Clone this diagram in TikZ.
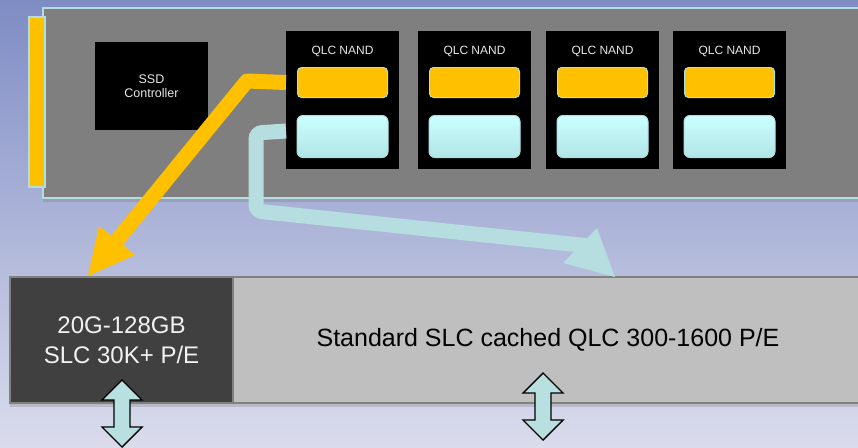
\documentclass[tikz,border=0pt]{standalone}
\usepackage{fontspec}
\setmainfont{Liberation Sans}
\usetikzlibrary{shadows}
\definecolor{bgtop}{RGB}{126,140,196}
\definecolor{bgbot}{RGB}{218,220,236}
\definecolor{gold}{HTML}{FFC000}
\definecolor{edgecyan}{HTML}{B4DDE0}
\definecolor{arrcyan}{HTML}{B6DDE0}
\definecolor{celltop}{HTML}{CCFFFF}
\definecolor{cellbot}{HTML}{B0E4E6}
\definecolor{boardgray}{HTML}{7F7F7F}
\definecolor{darkbox}{HTML}{404040}
\definecolor{lightbox}{HTML}{BFBFBF}
\definecolor{chiptext}{HTML}{E6E6E6}
\definecolor{dblfill}{HTML}{B8E0E0}
\begin{document}
\begin{tikzpicture}[x=1pt,y=-1pt,
  box/.style={anchor=north west, inner sep=0pt, outer sep=0pt},
  boardstyle/.style={box, fill=boardgray, draw=edgecyan, line width=1.5pt,
    drop shadow={shadow xshift=0pt, shadow yshift=-4pt, opacity=0.35}},
  edgebar/.style={box, fill=gold, draw=edgecyan, line width=1.2pt,
    minimum width=16pt, minimum height=170pt},
  blackbox/.style={box, fill=black,
    drop shadow={shadow xshift=2pt, shadow yshift=-2pt, opacity=0.35}},
  chiplabel/.style={anchor=base, inner sep=0pt, text=chiptext,
    font=\fontsize{12}{14}\selectfont},
  ycell/.style={anchor=north, inner sep=0pt, fill=gold, draw=edgecyan,
    line width=1pt, rounded corners=4pt, minimum width=90pt, minimum height=30pt},
  ccell/.style={anchor=north, inner sep=0pt, top color=celltop, bottom color=cellbot,
    draw=edgecyan, line width=1pt, rounded corners=6pt, minimum width=91pt, minimum height=42pt},
  barbox/.style={box, line width=1.2pt, draw=gray, minimum height=126pt,
    drop shadow={shadow xshift=0pt, shadow yshift=-4pt, opacity=0.3}},
  bigtext/.style={inner sep=0pt, align=center, font=\fontsize{24}{30}\selectfont},
  yarrow/.style={draw=gold, line width=15pt, line join=round},
  carrow/.style={draw=arrcyan, line width=15pt, rounded corners=6pt},
  dblstyle/.style={fill=dblfill, draw=black, line width=1.4pt, line join=miter},
  dbl/.pic={\path[dblstyle] (0,0) -- (20,20) -- (8,20) -- (8,47) -- (20,47)
     -- (0,67) -- (-20,47) -- (-8,47) -- (-8,20) -- (-20,20) -- cycle;}
]
\useasboundingbox (0,0) rectangle (858,447);
\clip (0,0) rectangle (858,447);
\shade[top color=bgtop, bottom color=bgbot] (0,0) rectangle (858,447);

% board
\node[boardstyle, minimum width=830pt, minimum height=190pt] (board) at (43,8) {};
\node[edgebar] (edge) at (29,17) {};
\node[blackbox, minimum width=113pt, minimum height=88pt, text=chiptext,
  align=center, font=\fontsize{12.5}{14}\selectfont] (ctrl) at (95,42) {SSD\\Controller};

% chips
\foreach \i/\x in {1/286,2/418,3/546,4/673}{
  \node[blackbox, minimum width=113pt, minimum height=138pt] (chip\i) at (\x,31) {};
  \node[chiplabel] (lab\i) at (\x+56.5,54) {QLC NAND};
  \node[ycell] (y\i) at (\x+56.5,67) {};
  \node[ccell] (c\i) at (\x+56.5,115) {};
}

% bottom bar
\node[barbox, fill=lightbox, minimum width=640pt] (qlcbox) at (233,277) {};
\node[barbox, fill=darkbox, minimum width=223pt] (slcbox) at (10,277) {};
\node[bigtext, text=white!95!black] (slctext) at (slcbox.center) {20G-128GB\\SLC 30K+ P/E};
\node[bigtext, text=black, font=\fontsize{25}{30}\selectfont] (qlctext) at (548,340) {Standard SLC cached QLC 300-1600 P/E};

% yellow arrow
\coordinate (ybend) at (247,81);
\coordinate (yend) at (110.6,248.2);
\coordinate (ytip) at (88,276);
\path[yarrow] (chip1.west |- y1.west) -- (ybend) -- (yend);
\fill[gold] (99,226) -- (ytip) -- (135,255) -- cycle;

% cyan arrow
\coordinate (cstart) at (chip1.west |- 0,131);
\coordinate (cbend1) at (256,133);
\coordinate (cbend2) at (256,211);
\coordinate (cend) at (590,246);
\coordinate (ctip) at (615,277);
\path[carrow] (cstart) -- (cbend1) -- (cbend2) -- (cend);
\fill[arrcyan] (597,228) -- (ctip) -- (563,263) -- cycle;

% double arrows
\pic at (122,380) {dbl};
\pic at (543,373) {dbl};
\end{tikzpicture}
\end{document}
